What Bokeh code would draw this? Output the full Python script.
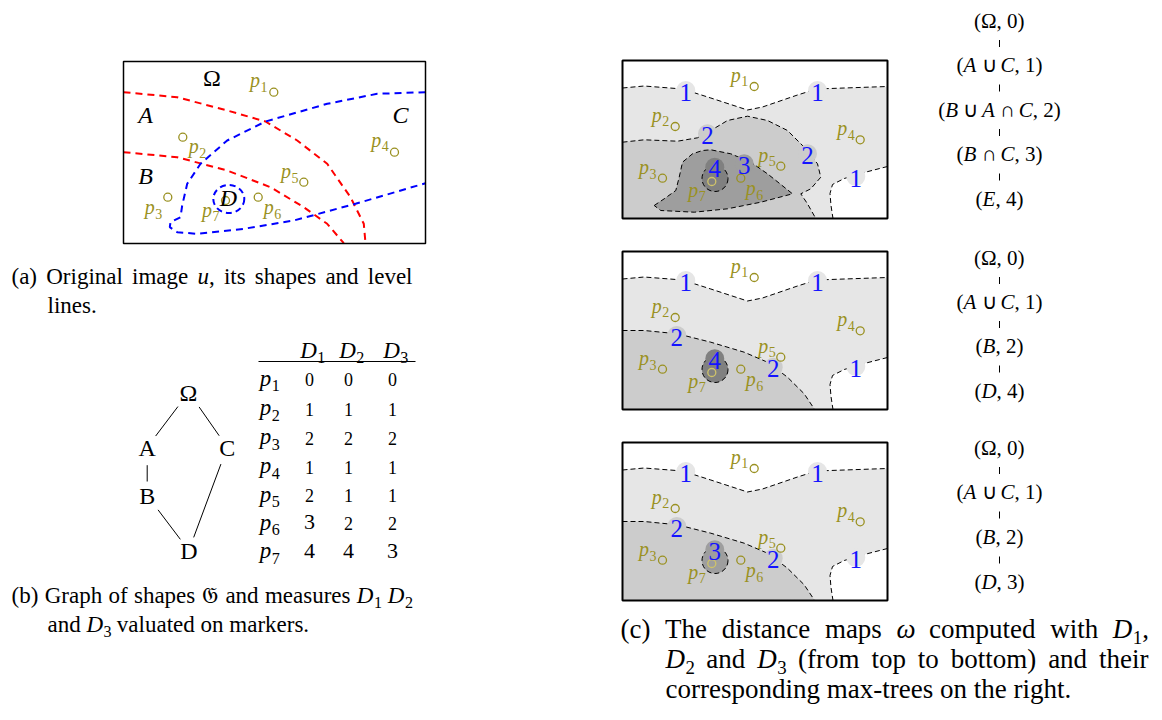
import math
from bokeh.plotting import figure
from bokeh.models import Range1d, ColumnDataSource
from bokeh.core.properties import value
from bokeh.embed import file_html
from bokeh.resources import INLINE

SERIF = "Liberation Serif"
OLIVE = "#9a9122"
BLUE = "#1414ff"
LEVEL_COLORS = {1: "#e6e6e6", 2: "#cccccc", 3: "#9e9e9e", 4: "#808080"}

# ---------------- Panel (a): original image ----------------
a_box = [123, 61, 425, 243]  # left, top, right, bottom
red_outer_x = [123, 176.7, 226.7, 265, 296.7, 326.7, 350, 363.3, 365]
red_outer_y = [91.7, 96.7, 110, 121, 140, 163.3, 196.7, 223.3, 242.7]
red_inner_x = [123, 176.7, 226.7, 270, 303.3, 326.7, 343.3]
red_inner_y = [151.7, 156.7, 170, 186.7, 206.7, 223.3, 242.7]
blue_x = [425, 376.7, 326.7, 265, 226.7, 200, 186.7, 181.7, 180, 170, 169.3, 176.7, 196.7, 243.3, 293.3, 355, 425]
blue_y = [91.7, 93.3, 103.3, 121, 140, 163.3, 183.3, 205, 216.7, 221.7, 226.7, 231.7, 233.3, 228.3, 220, 203.3, 182.7]
d_ellipse = [228.3, 198.5, 31, 28]  # cx, cy, w, h
shape_names = ["Ω", "$A$", "$C$", "$B$", "$D$"]
shape_lx = [211.7, 145, 400, 145, 228]
shape_ly = [85.5, 122.5, 122.5, 183.5, 205.5]
marker_names = ["1", "2", "3", "4", "5", "6", "7"]
pa_x = [273.3, 182.3, 167.3, 394, 303.3, 257.7, 225]
pa_y = [91.7, 136.7, 196.7, 151.7, 181.7, 196.7, 200]
pa_lx = [258, 196.7, 152.7, 379.3, 289, 271.7, 210]
pa_ly = [86.2, 152.2, 212.8, 145.5, 177.2, 212.8, 215.5]

# ---------------- Panel (b): graph + table ----------------
node_names = ["Ω", "A", "C", "B", "D"]
node_x = [188.3, 146.7, 226.7, 146.7, 188.3]
node_y = [391.7, 446.7, 446.7, 495, 550]
edges = [("Ω", "A"), ("Ω", "C"), ("A", "B"), ("B", "D"), ("C", "D")]
table_cols = ["1", "2", "3"]
col_x = [309, 348, 392]
header_y = 357
row_y = [385, 414.5, 443.5, 472.5, 501, 529, 557.5]
D1 = [0, 1, 2, 1, 2, 3, 4]
D2 = [0, 1, 2, 1, 1, 2, 4]
D3 = [0, 1, 2, 1, 1, 2, 3]

# ---------------- Panel (c): distance maps ----------------
box_left, box_w, box_h = 622, 265, 158
box_tops = [60, 251, 442]
lvl1_top_x = [0, 21.7, 60, 88.3, 125, 140, 175, 194, 221.7, 265]
lvl1_top_y = [27.5, 25.5, 28.5, 37.5, 49.5, 46.5, 34.5, 28.5, 27.5, 26]
notch_x = [265, 241.7, 221.7, 210, 207.5, 208.5, 210.5]
notch_y = [106, 112, 118, 124, 133, 145, 158]
m1_lvl2_x = [0, 21.7, 55, 75, 88.3, 105, 125, 145, 165, 181.7, 195, 198.3, 188.3, 178.3, 185, 193.3]
m1_lvl2_y = [81.7, 79.3, 80.7, 77.3, 70, 60, 55.7, 60, 70, 86.7, 103.3, 116.7, 128.3, 133.3, 143.3, 158]
m1_lvl3_x = [31.7, 41.7, 53.3, 56.7, 60, 70, 80, 88.3, 108.3, 128.3, 145, 170, 138.3, 105, 71.7, 38.3]
m1_lvl3_y = [145, 138.3, 130, 116.7, 101.7, 93.3, 90, 89.3, 93.3, 101.7, 113.3, 133.3, 141.7, 148.3, 151.7, 150]
m2_lvl2_x = [0, 21.7, 55, 88.3, 121.7, 145, 165, 181.7, 191.7]
m2_lvl2_y = [79, 79, 82.3, 90.7, 100.7, 110.7, 125.7, 142.3, 157.3]
p7_disc = [92.5, 118, 13]  # cx, cy, r (relative)
map_p7_level = [4, 4, 3]
map_numbers = [
    (["1", "1", "2", "2", "4", "3", "1"],
     [63.3, 195, 85, 185, 92.3, 121.7, 233.3],
     [30, 30, 73.3, 93.3, 106.7, 103.3, 116]),
    (["1", "1", "2", "4", "2", "1"],
     [63.3, 195, 54.3, 92.3, 150.7, 233.3],
     [29, 29, 84, 107.3, 115.7, 115]),
    (["1", "1", "2", "3", "2", "1"],
     [63.3, 195, 54.3, 92.3, 150.7, 233.3],
     [29, 29, 84, 107.3, 115.7, 115]),
]
pc_x = [131.7, 52.7, 40, 237.7, 158.3, 118.3, 89.3]
pc_y = [26, 66, 117.7, 79.3, 105.7, 117.7, 121]
pc_lx = [116.7, 37.7, 25, 223.3, 144.3, 131.7, 74.3]
pc_ly = [20.5, 60.5, 113, 74, 100.5, 134, 135.5]

# ---------------- Max-trees ----------------
tree_x = 999
trees = [
    (["(Ω, 0)", "($A$ ∪ $C$, 1)", "($B$ ∪ $A$ ∩ $C$, 2)", "($B$ ∩ $C$, 3)", "($E$, 4)"],
     [21, 65, 110, 154, 199]),
    (["(Ω, 0)", "($A$ ∪ $C$, 1)", "($B$, 2)", "($D$, 4)"], [258, 302, 346, 391]),
    (["(Ω, 0)", "($A$ ∪ $C$, 1)", "($B$, 2)", "($D$, 3)"], [448, 492, 537, 582]),
]

# ---------------- Captions (markup, left, right-or-None, baseline, size) ----------------
captions = [
    ("(a) Original image $u$, its shapes and level", 11, 412, 283, 23),
    ("lines.", 47, None, 312, 23),
    ("(b) Graph of shapes 𝔊 and measures $D$_1 $D$_2", 11, 412, 602, 23),
    ("and $D$_3 valuated on markers.", 47, None, 631, 23),
    ("(c) The distance maps $ω$ computed with $D$_1,", 620, 1148, 637, 27),
    ("$D$_2 and $D$_3 (from top to bottom) and their", 665, 1148, 667, 27),
    ("corresponding max-trees on the right.", 665, None, 697, 27),
]

# ---------------- tiny typesetter (Times metrics) ----------------
W_R = dict(zip("abcdefghijklmnopqrstuvwxyz",
               [444, 500, 444, 500, 444, 333, 500, 500, 278, 278, 500, 278, 778,
                500, 500, 500, 500, 333, 389, 278, 500, 500, 722, 500, 500, 444]))
W_R.update({"A": 722, "B": 667, "C": 667, "D": 722, "E": 611, "G": 722, "O": 722,
            "T": 611, "Ω": 768, " ": 250, "(": 333, ")": 333, ",": 250, ".": 250,
            "-": 333, "∪": 640, "∩": 640, "𝔊": 760, "ω": 680})
for _d in "0123456789":
    W_R[_d] = 500
W_I = dict(W_R)
W_I.update({"A": 611, "B": 611, "C": 667, "D": 722, "E": 611, "u": 500, "p": 500, "ω": 660})

buckets = {"normal": {"x": [], "y": [], "text": [], "fs": [], "col": []},
           "italic": {"x": [], "y": [], "text": [], "fs": [], "col": []}}


def parse(s):
    runs, it, cur, i = [], False, "", 0
    while i < len(s):
        ch = s[i]
        if ch == "$":
            if cur:
                runs.append((cur, "i" if it else "r"))
                cur = ""
            it = not it
        elif ch == "_":
            if cur:
                runs.append((cur, "i" if it else "r"))
                cur = ""
            runs.append((s[i + 1], "s"))
            i += 1
        else:
            cur += ch
        i += 1
    if cur:
        runs.append((cur, "i" if it else "r"))
    return runs


def run_w(t, st, size):
    if st == "s":
        return sum(W_R.get(c, 500) for c in t) * size * 0.7 / 1000
    tbl = W_I if st == "i" else W_R
    return sum(tbl.get(c, 500) for c in t) * size / 1000


def width(markup, size):
    return sum(run_w(t, st, size) for t, st in parse(markup))


def emit(markup, x, y, size, color="black"):
    """Place markup with its left edge at x and baseline at y (drawn with middle anchor)."""
    for t, st in parse(markup):
        lead = len(t) - len(t.lstrip(" "))
        if lead:
            x += run_w(t[:lead], st, size)
            t = t[lead:]
        b = buckets["italic" if st == "i" else "normal"]
        if st == "s":
            fs = size * 0.7
            b["x"].append(x + 0.5)
            b["y"].append(y + 0.24 * size - 0.32 * fs)
        else:
            fs = size
            b["x"].append(x)
            b["y"].append(y - 0.32 * size)
        b["fs"].append(f"{fs:.1f}px")
        b["text"].append(t)
        b["col"].append(color)
        x += run_w(t, st, size) + (0.5 if st == "s" else 0)
    return x


def emit_center(markup, cx, y, size, color="black"):
    emit(markup, cx - width(markup, size) / 2, y, size, color)


# =========================================================
p = figure(width=1160, height=716, x_range=Range1d(0, 1160), y_range=Range1d(716, 0),
           output_backend="svg", toolbar_location=None,
           x_axis_location=None, y_axis_location=None, min_border=0)
p.grid.visible = False
p.outline_line_color = None
p.background_fill_color = "white"

# ---- panel (a)
p.line(red_outer_x, red_outer_y, line_color="red", line_width=2, line_dash="7 5")
p.line(red_inner_x, red_inner_y, line_color="red", line_width=2, line_dash="7 5")
p.line(blue_x, blue_y, line_color="blue", line_width=2, line_dash="7 5")
p.ellipse(x=[d_ellipse[0]], y=[d_ellipse[1]], width=[d_ellipse[2]], height=[d_ellipse[3]],
          fill_color=None, line_color="blue", line_width=2, line_dash="6 4")
for nm, x, y in zip(shape_names, shape_lx, shape_ly):
    emit_center(nm, x, y, 24)
p.scatter(pa_x, pa_y, marker="circle", size=8, fill_color=None, line_color=OLIVE, line_width=1.3)
for nm, x, y in zip(marker_names, pa_lx, pa_ly):
    emit_center("$p$_" + nm, x, y, 20, OLIVE)
p.quad(left=[a_box[0]], right=[a_box[2]], top=[a_box[1]], bottom=[a_box[3]],
       fill_color=None, line_color="black", line_width=1.5)

# ---- panel (b)
idx = {n: i for i, n in enumerate(node_names)}
ex0, ey0, ex1, ey1 = [], [], [], []
for a, b in edges:
    x0, y0, x1, y1 = node_x[idx[a]], node_y[idx[a]], node_x[idx[b]], node_y[idx[b]]
    L = math.hypot(x1 - x0, y1 - y0)
    ux, uy = (x1 - x0) / L, (y1 - y0) / L
    g0, g1 = 18, 14
    ex0.append(x0 + ux * g0); ey0.append(y0 + uy * g0)
    ex1.append(x1 - ux * g1); ey1.append(y1 - uy * g1)
p.segment(ex0, ey0, ex1, ey1, line_color="black", line_width=1)
for nm, x, y in zip(node_names, node_x, node_y):
    emit_center(nm, x, y + 8, 24)

# table
for c, cx in zip(table_cols, col_x):
    emit_center("$D$_" + c, cx + 3, header_y, 23)
p.segment([258], [361], [415], [361], line_color="black", line_width=1)
for nm, y in zip(marker_names, row_y):
    emit_center("$p$_" + nm, 269, y, 23)
for cx, col in zip(col_x, [D1, D2, D3]):
    for v, y in zip(col, row_y):
        emit_center(str(v), cx, y, 18 if v <= 2 else 22)

# ---- panel (c)
for k, top in enumerate(box_tops):
    X = lambda xs: [box_left + v for v in xs]
    Y = lambda ys: [top + v for v in ys]
    l1x = lvl1_top_x + notch_x + [0]
    l1y = lvl1_top_y + notch_y + [box_h]
    p.patch(X(l1x), Y(l1y), fill_color=LEVEL_COLORS[1], line_color=None)
    if k == 0:
        l2x, l2y = m1_lvl2_x, m1_lvl2_y
    else:
        l2x, l2y = m2_lvl2_x, m2_lvl2_y
    p.patch(X(l2x + [0]), Y(l2y + [box_h]), fill_color=LEVEL_COLORS[2], line_color=None)
    if k == 0:
        p.patch(X(m1_lvl3_x), Y(m1_lvl3_y), fill_color=LEVEL_COLORS[3], line_color="black",
                line_width=1, line_dash="5 3")
    p.line(X(lvl1_top_x), Y(lvl1_top_y), line_color="black", line_width=1, line_dash="5 3")
    p.line(X(notch_x), Y(notch_y), line_color="black", line_width=1, line_dash="5 3")
    p.line(X(l2x), Y(l2y), line_color="black", line_width=1, line_dash="5 3")
    p.circle(x=X([p7_disc[0]]), y=Y([p7_disc[1]]), radius=p7_disc[2],
             fill_color=LEVEL_COLORS[map_p7_level[k]], line_color="black",
             line_width=1, line_dash="5 3")
    labels, nx, ny = map_numbers[k]
    p.circle(x=X(nx), y=Y(ny), radius=9.5,
             fill_color=[LEVEL_COLORS[int(s)] for s in labels], line_color=None)
    for s, x, y in zip(labels, X(nx), Y(ny)):
        emit_center(s, x, y + 9.5, 25, BLUE)
    mcol = [OLIVE] * 6 + ["#cfc36a"]
    p.scatter(X(pc_x), Y(pc_y), marker="circle", size=8, fill_color=None,
              line_color=mcol, line_width=1.3)
    for nm, x, y in zip(marker_names, X(pc_lx), Y(pc_ly)):
        emit_center("$p$_" + nm, x, y, 20, OLIVE)
    p.quad(left=[box_left], right=[box_left + box_w], top=[top], bottom=[top + box_h],
           fill_color=None, line_color="black", line_width=2)

# trees
for labels, ys in trees:
    for lab, y in zip(labels, ys):
        emit_center(lab, tree_x, y + 6.5, 21)
    mids = [(ys[i] + ys[i + 1]) / 2 for i in range(len(ys) - 1)]
    p.segment([tree_x] * len(mids), [m - 3.5 for m in mids], [tree_x] * len(mids),
              [m + 3.5 for m in mids], line_color="black", line_width=1)

# captions (justified word by word)
for markup, x0, x1, y, size in captions:
    words = markup.split(" ")
    ws = [width(w, size) for w in words]
    if x1 is None or len(words) < 2:
        gap = W_R[" "] * size / 1000
    else:
        gap = (x1 - x0 - sum(ws)) / (len(words) - 1)
    x = x0
    for w, ww in zip(words, ws):
        emit(w, x, y, size)
        x += ww + gap

# flush all text
for style, b in buckets.items():
    src = ColumnDataSource(b)
    p.text(x="x", y="y", text="text", source=src, text_font=value(SERIF),
           text_font_size="fs", text_color="col", text_font_style=style,
           text_align="left", text_baseline="middle")

open("out.html", "w").write(file_html(p, INLINE))
